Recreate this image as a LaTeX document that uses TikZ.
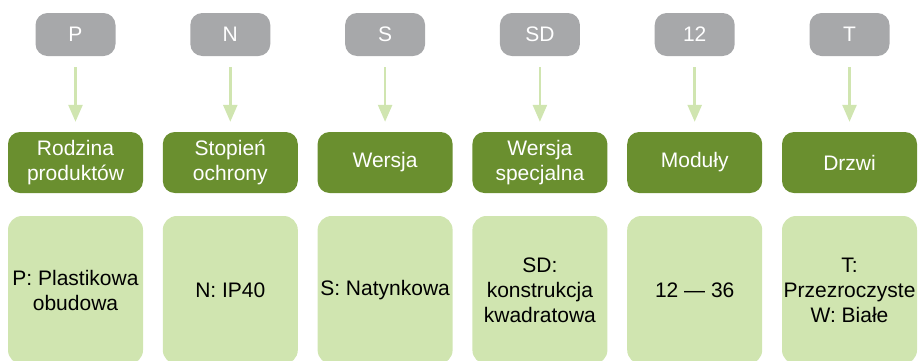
\documentclass[tikz,border=0pt]{standalone}
\usepackage{fontspec}
\setmainfont{Liberation Sans}
\usetikzlibrary{arrows.meta}
\definecolor{greybox}{HTML}{A7A8AA}
\definecolor{darkgreen}{HTML}{6A8F2F}
\definecolor{lightgreen}{HTML}{D0E5B0}
\tikzset{
  codebox/.style={fill=greybox, rounded corners=12pt, minimum width=80pt, minimum height=43pt, inner sep=0pt, text=white, font=\fontsize{21}{25}\selectfont},
  catbox/.style={fill=darkgreen, rounded corners=12pt, minimum width=135pt, minimum height=61pt, inner sep=0pt, text=white, align=center, font=\fontsize{21}{25}\selectfont},
  valbox/.style={fill=lightgreen, rounded corners=14pt, minimum width=135pt, minimum height=148pt, inner sep=0pt, text=black, align=center, font=\fontsize{21}{25}\selectfont},
  conn/.style={draw=lightgreen, line width=2.6pt, -{Triangle[width=14pt,length=17pt]}, shorten <=11pt, shorten >=10pt}
}
\begin{document}
\begin{tikzpicture}[x=1pt,y=1pt]
\useasboundingbox (0,0) rectangle (919,-360);
\foreach \i/\c/\cat/\val in {
  0/P/{Rodzina\\produktów}/{P: Plastikowa\\obudowa},
  1/N/{Stopień\\ochrony}/{N: IP40},
  2/S/{Wersja}/{S: Natynkowa},
  3/SD/{Wersja\\specjalna}/{SD:\\konstrukcja\\kwadratowa},
  4/12/{Moduły}/{12 — 36},
  5/T/{Drzwi}/{T:\\Przezroczyste\\W: Białe}} {
  \pgfmathsetmacro{\cx}{75.5+154.8*\i}
  \node[codebox] (g\i) at (\cx,-34.5) {\c};
  \node[catbox] (c\i) at (\cx,-162.5) {\cat};
  \node[valbox] (v\i) at (\cx,-290) {\val};
  \draw[conn] (g\i) -- (c\i);
}
\end{tikzpicture}
\end{document}
